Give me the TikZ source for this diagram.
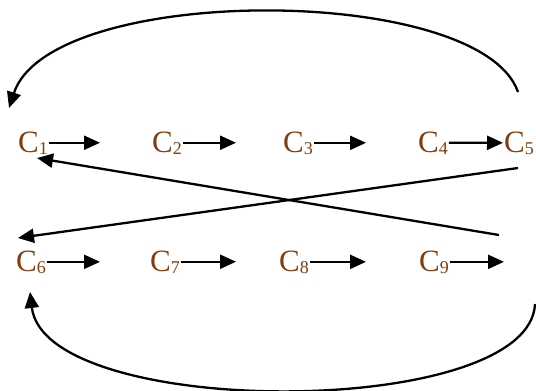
\documentclass[tikz,border=0pt]{standalone}
\usepackage{fontspec}
\setmainfont{Liberation Serif}
\usetikzlibrary{arrows.meta}
\definecolor{cbrown}{RGB}{132,60,12}
\newcommand{\Cn}[1]{C\raisebox{-2pt}{\fontsize{18}{18}\selectfont #1}}

\begin{document}
\begin{tikzpicture}[x=1pt,y=-1pt,line width=2.3pt,
	cname/.style={text=cbrown,inner sep=0pt,anchor=base west,font=\fontsize{31}{31}\selectfont},
	>={Triangle[length=16pt,width=14pt]}]
\useasboundingbox (0,0) rectangle (536,391);

		\node[cname,name=C1] at (17,152) {\Cn{1}};
		\node[cname,name=C2] at (151,152) {\Cn{2}};
		\node[cname,name=C3] at (282,152) {\Cn{3}};
		\node[cname,name=C4] at (417,152) {\Cn{4}};
		\node[cname,name=C5] at (503,152) {\Cn{5}};

		\node[cname,name=C6] at (15,271) {\Cn{6}};
		\node[cname,name=C7] at (149,271) {\Cn{7}};
		\node[cname,name=C8] at (278,271) {\Cn{8}};
		\node[cname,name=C9] at (418,271) {\Cn{9}};

\coordinate (E1) at (100,144);
\coordinate (E2) at (236,144);
\coordinate (E3) at (366,144);
\coordinate (E6) at (100,262);
\coordinate (E7) at (236,262);
\coordinate (E8) at (366,262);
\coordinate (E9) at (504,262);

	\draw[->] (C1.east) -- (C1.east -| E1);
	\draw[->] (C2.east) -- (C2.east -| E2);
	\draw[->] (C3.east) -- (C3.east -| E3);
	\draw[->] (C4.east) -- (C5.west);
	\draw[->] (C6.east) -- (C6.east -| E6);
	\draw[->] (C7.east) -- (C7.east -| E7);
	\draw[->] (C8.east) -- (C8.east -| E8);
	\draw[->] (C9.east) -- (C9.east -| E9);

\coordinate (S1) at (518,168);
\coordinate (T1) at (18,238);
\coordinate (S2) at (499,235);
\coordinate (T2) at (37,158);
\draw[->] (S1) -- (T1);
\draw[->] (S2) -- (T2);

\coordinate (TA) at (518,92);
\coordinate (TB) at (9,108);
\coordinate (BA) at (535,304);
\coordinate (BB) at (30,292);
\draw[->] (TA) .. controls (480,-17) and (50,-17) .. (TB);
\draw[->] (BA) .. controls (530,420) and (45,420) .. (BB);
	\end{tikzpicture}
\end{document}
